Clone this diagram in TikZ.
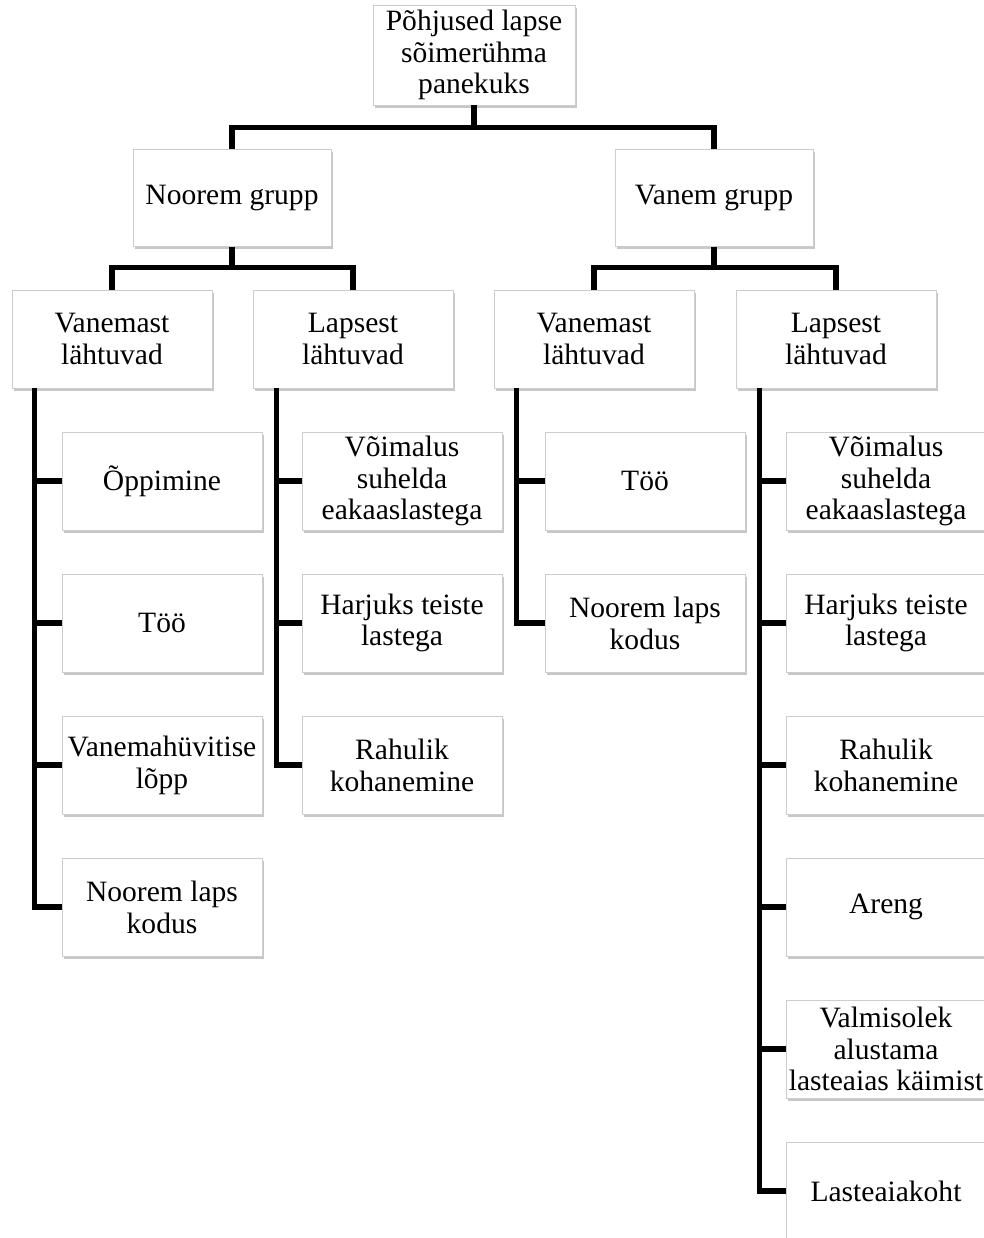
\documentclass[tikz,border=0pt]{standalone}
\usepackage{fontspec}
\setmainfont{Liberation Serif}
\usetikzlibrary{shadows}
\definecolor{boxline}{RGB}{205, 205, 205}

\begin{document}
\begin{tikzpicture}[
    x=0.025cm, y=-0.025cm,
    box/.style={
        rectangle,
        draw=boxline,
        fill=white,
        line width=0.6pt,
        minimum width=5cm,
        minimum height=2.45cm,
        inner sep=0pt,
        align=center,
        font=\fontsize{21}{22.6}\selectfont,
        drop shadow={shadow xshift=1.2pt, shadow yshift=-1.8pt, fill=black, opacity=0.22}
    },
    link/.style={
        line width=3.6pt,
        black
    }
]

% Page
\useasboundingbox (0,0) rectangle (984,1238);
\clip (0,0) rectangle (984,1238);

% Top
\node[box, minimum width=5.05cm, minimum height=2.5cm] (root) at (474,55) {Põhjused lapse\\sõimerühma\\panekuks};

% Groups
\node[box, minimum width=4.95cm, minimum height=2.42cm] (noorem) at (232,198) {Noorem grupp};
\node[box, minimum width=4.95cm, minimum height=2.42cm] (vanem) at (714,198) {Vanem grupp};

% Sources
\node[box] (nvan) at (112,339) {Vanemast\\lähtuvad};
\node[box] (nlap) at (353,339) {Lapsest\\lähtuvad};
\node[box] (vvan) at (594,339) {Vanemast\\lähtuvad};
\node[box] (vlap) at (836,339) {Lapsest\\lähtuvad};

% Reasons, younger group
\node[box] (noppimine) at (162,481) {Õppimine};
\node[box] (ntoo) at (162,623) {Töö};
\node[box] (nhuvitis) at (162,765) {Vanemahüvitise\\lõpp};
\node[box] (nkodus) at (162,907) {Noorem laps\\kodus};

\node[box] (nsuhelda) at (402,481) {Võimalus\\suhelda\\eakaaslastega};
\node[box] (nharjuks) at (402,623) {Harjuks teiste\\lastega};
\node[box] (nrahulik) at (402,765) {Rahulik\\kohanemine};

% Reasons, older group
\node[box] (vtoo) at (645,481) {Töö};
\node[box] (vkodus) at (645,623) {Noorem laps\\kodus};

\node[box] (vsuhelda) at (886,481) {Võimalus\\suhelda\\eakaaslastega};
\node[box] (vharjuks) at (886,623) {Harjuks teiste\\lastega};
\node[box] (vrahulik) at (886,765) {Rahulik\\kohanemine};
\node[box] (vareng) at (886,907) {Areng};
\node[box] (vvalmis) at (886,1049) {Valmisolek\\alustama\\lasteaias käimist};
\node[box] (vkoht) at (886,1191) {Lasteaiakoht};

% Links
\foreach \grp in {noorem, vanem}
    \draw[link] (root.south) -- ++(0,22) -| (\grp.north);
\foreach \src in {nvan, nlap}
    \draw[link] (noorem.south) -- ++(0,21) -| (\src.north);
\foreach \src in {vvan, vlap}
    \draw[link] (vanem.south) -- ++(0,21) -| (\src.north);

\foreach \item in {noppimine, ntoo, nhuvitis, nkodus}
    \draw[link] ([xshift=0.575cm]nvan.south west) |- (\item.west);
\foreach \item in {nsuhelda, nharjuks, nrahulik}
    \draw[link] ([xshift=0.6cm]nlap.south west) |- (\item.west);
\foreach \item in {vtoo, vkodus}
    \draw[link] ([xshift=0.575cm]vvan.south west) |- (\item.west);
\foreach \item in {vsuhelda, vharjuks, vrahulik, vareng, vvalmis, vkoht}
    \draw[link] ([xshift=0.6cm]vlap.south west) |- (\item.west);

\end{tikzpicture}
\end{document}
